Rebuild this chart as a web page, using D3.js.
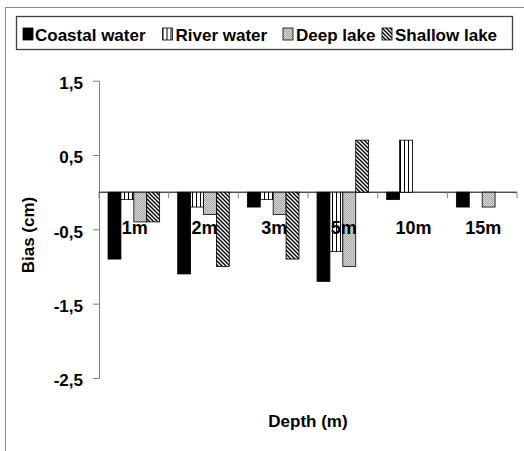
<!DOCTYPE html>
<html>
<head>
<meta charset="utf-8">
<script src="https://cdn.jsdelivr.net/npm/d3@7"></script>
<style>
  body { margin: 0; background: #fff; }
  text { font-family: "Liberation Sans", Arial, sans-serif; font-weight: bold; fill: #000; }
</style>
</head>
<body>
<svg id="chart"></svg>
<script>
// data
const depths = ["1m", "2m", "3m", "5m", "10m", "15m"];
const seriesNames = ["Coastal water", "River water", "Deep lake", "Shallow lake"];
const coastal = [-0.9, -1.1, -0.2, -1.2, -0.1, -0.2];
const river = [-0.1, -0.2, -0.1, -0.8, 0.7, null];
const deepLake = [-0.4, -0.3, -0.3, -1.0, null, -0.2];
const shallowLake = [-0.4, -1.0, -0.9, 0.7, null, null];
const yTicks = [1.5, 0.5, -0.5, -1.5, -2.5];

const seriesValues = [coastal, river, deepLake, shallowLake];
const fills = ["#000", "url(#pRiver)", "url(#pDeep)", "url(#pShallow)"];

const W = 524, H = 451;
const svg = d3.select("#chart").attr("width", W).attr("height", H);

// patterns
const defs = svg.append("defs");
const pr = defs.append("pattern").attr("id", "pRiver").attr("patternUnits", "userSpaceOnUse")
  .attr("width", 4).attr("height", 4);
pr.append("rect").attr("width", 4).attr("height", 4).attr("fill", "#fff");
pr.append("rect").attr("x", 0).attr("width", 1).attr("height", 4).attr("fill", "#000");

const pd = defs.append("pattern").attr("id", "pDeep").attr("patternUnits", "userSpaceOnUse")
  .attr("width", 2).attr("height", 2);
pd.append("rect").attr("width", 2).attr("height", 2).attr("fill", "#d6d6d6");
pd.append("rect").attr("width", 1).attr("height", 1).attr("fill", "#a8a8a8");
pd.append("rect").attr("x", 1).attr("y", 1).attr("width", 1).attr("height", 1).attr("fill", "#a8a8a8");

const ps = defs.append("pattern").attr("id", "pShallow").attr("patternUnits", "userSpaceOnUse")
  .attr("width", 4).attr("height", 4);
ps.append("rect").attr("width", 4).attr("height", 4).attr("fill", "#fff");
ps.append("path").attr("d", "M-1,-1 L5,5 M-1,3 L1,5 M3,-1 L5,1")
  .attr("stroke", "#000").attr("stroke-width", 1.4);

// outer frame
svg.append("rect").attr("x", 5.5).attr("y", 7.5).attr("width", W + 10).attr("height", H + 10)
  .attr("fill", "none").attr("stroke", "#8a8a8a");

const plotLeft = 99, plotRight = 517, plotTop = 80.7, plotBottom = 378;

const x0 = d3.scaleBand().domain(depths).range([plotLeft, plotRight]).padding(0);
const x1 = d3.scaleBand().domain(d3.range(4)).range([0, x0.bandwidth()])
  .paddingInner(0).paddingOuter(0.7);
const y = d3.scaleLinear().domain([-2.5, 1.5]).range([plotBottom, plotTop]);

// y axis
const yAxis = svg.append("g").attr("transform", `translate(${plotLeft},0)`)
  .call(d3.axisLeft(y).tickValues(yTicks).tickSize(6).tickSizeOuter(0)
    .tickFormat(d => d3.format(".1f")(d).replace(".", ",").replace("−", "-")));
yAxis.select(".domain").attr("stroke", "#808080");
yAxis.selectAll(".tick line").attr("stroke", "#808080");
yAxis.selectAll(".tick text").attr("x", -16).attr("dy", "0.45em")
  .style("font-size", "17px");

// bars
const rows = [];
depths.forEach((d, i) => {
  seriesValues.forEach((vals, s) => {
    if (vals[i] !== null) rows.push({ depth: d, s: s, v: vals[i] });
  });
});

// x axis at zero
const xAxis = svg.append("g").attr("transform", `translate(0,${y(0)})`);
xAxis.append("line").attr("x1", plotLeft).attr("x2", plotRight).attr("stroke", "#000");
xAxis.selectAll("line.tk").data(depths.concat(["end"])).join("line").attr("class", "tk")
  .attr("x1", (d, i) => plotLeft + i * x0.step()).attr("x2", (d, i) => plotLeft + i * x0.step())
  .attr("y1", 0).attr("y2", 6).attr("stroke", "#808080");

svg.append("g").selectAll("rect").data(rows).join("rect")
  .attr("x", d => x0(d.depth) + x1(d.s))
  .attr("width", x1.bandwidth())
  .attr("y", d => y(Math.max(0, d.v)))
  .attr("height", d => Math.abs(y(d.v) - y(0)))
  .attr("fill", d => fills[d.s])
  .attr("stroke", "#000").attr("stroke-width", 0.8);

// category labels
svg.append("g").selectAll("text").data(depths).join("text")
  .attr("x", d => x0(d) + x0.bandwidth() / 2 + 1)
  .attr("y", 234)
  .attr("text-anchor", "middle")
  .style("font-size", "18px")
  .text(d => d);

// axis titles
svg.append("text").attr("x", 308).attr("y", 427).attr("text-anchor", "middle")
  .style("font-size", "17px").text("Depth (m)");
svg.append("text").attr("transform", "translate(34,235) rotate(-90)").attr("text-anchor", "middle")
  .style("font-size", "17px").text("Bias (cm)");

// legend
svg.append("rect").attr("x", 16.5).attr("y", 16.5).attr("width", 496).attr("height", 33)
  .attr("fill", "#fff").attr("stroke", "#404040").attr("stroke-width", 1.3);
const legendX = [23, 162.5, 283, 382];
const lg = svg.append("g").selectAll("g").data(seriesNames).join("g")
  .attr("transform", (d, i) => `translate(${legendX[i]},28)`);
lg.append("rect").attr("width", 10).attr("height", 12)
  .attr("fill", (d, i) => fills[i]).attr("stroke", "#000").attr("stroke-width", 0.8);
lg.append("text").attr("x", (d, i) => i === 0 ? 12 : 13).attr("y", 12.5)
  .style("font-size", "17px").text(d => d);
</script>
</body>
</html>
